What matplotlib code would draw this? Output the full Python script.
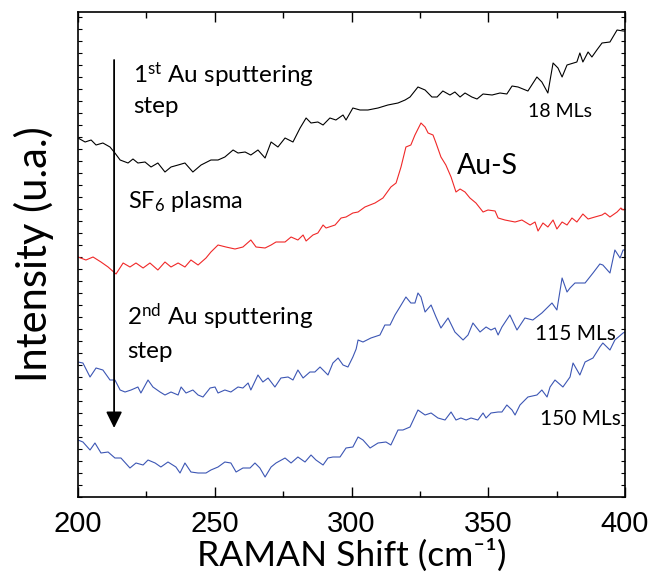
#!/usr/bin/env python3
"""
Raman spectra of Au films: 18 MLs, after SF6 plasma, 115 MLs and 150 MLs.
Writes: out.png
"""
import matplotlib
matplotlib.use("Agg")
import matplotlib.pyplot as plt
from matplotlib.ticker import MultipleLocator

TEXT_FONT = "Lato"
TICK_FONT = "Liberation Sans"

plt.rcParams["mathtext.fontset"] = "custom"
plt.rcParams["mathtext.rm"] = TEXT_FONT
plt.rcParams["mathtext.it"] = TEXT_FONT
plt.rcParams["mathtext.bf"] = TEXT_FONT

# --- spectra (Raman shift in cm-1, intensity in a.u.) ---
x_18 = [200, 202.6, 204.8, 206.6, 209.1, 211.7, 213.5, 215.4, 218.3, 220.1, 221.9,
        224.5, 226.7, 229.2, 231.8, 234, 236.6, 239.1, 242, 245, 248.6, 251.2,
        253.7, 256.7, 258.5, 261.1, 263.2, 265.8, 268.4, 270.6, 273.1, 275.7,
        278.6, 281.2, 283.4, 285.2, 287.7, 289.6, 292.1, 294.3, 296.9, 298,
        300.5, 303.1, 306, 309.7, 313.3, 317, 319.6, 321.4, 324.3, 326.9, 329.4,
        331.3, 333.4, 336, 337.8, 339.7, 341.5, 344, 345.9, 348.1, 351.4, 354.3,
        356.8, 358.7, 360.9, 364.5, 367.8, 369.6, 371.8, 373.7, 375.5, 377,
        378.8, 382.4, 383.5, 384.6, 386.5, 387.9, 389.7, 391.6, 394.5, 397.1,
        399.3, 400]
y_18 = [359, 355, 357, 352, 354, 350, 344, 337, 334, 338, 334,
        335, 330, 334, 325, 330, 332, 334, 325, 332, 337, 337,
        340, 347, 344, 345, 342, 347, 339, 355, 350, 359,
        355, 369, 379, 374, 375, 372, 379, 377, 382, 377,
        389, 387, 387, 389, 392, 394, 397, 400, 410, 407, 400,
        400, 406, 402, 405, 400, 404, 400, 398, 403, 402, 404,
        403, 411, 410, 406, 420, 415, 404, 434, 429, 420,
        432, 435, 444, 435, 445, 440, 447, 454, 455, 467,
        466, 466]

x_sf6 = [200, 202.9, 205.5, 208.4, 211, 213.9, 216.5, 219, 221.2, 223.8, 226.3,
         229.2, 231.8, 234, 236.6, 239.1, 241.3, 243.9, 246.8, 248.6, 251.2,
         254.1, 257.4, 260.3, 263.2, 265.1, 268.4, 270.6, 272.4, 275.7, 277.9,
         280.4, 282.3, 283.4, 285.9, 287.7, 289.6, 290.7, 294, 296.2, 298,
         300.5, 302.4, 304.9, 308.6, 311.5, 314.4, 316.3, 318.1, 319.9, 321.7,
         323.2, 325.4, 326.9, 328, 329.8, 330.9, 332.7, 334.5, 336.4, 338.2,
         339.7, 341.5, 343.3, 345.5, 348.1, 349.9, 352.5, 353.6, 356.1, 359.8,
         362.3, 365.3, 367.1, 368.2, 370, 371.8, 373.7, 375.1, 377, 378.8,
         380.6, 382.4, 384.6, 386.5, 389, 391.6, 392.7, 394.5, 397.1, 398.5,
         399.3, 400]
y_sf6 = [240, 237, 240, 235, 230, 223, 234, 230, 234, 229, 234,
         227, 235, 230, 234, 230, 237, 232, 239, 245, 252,
         250, 248, 250, 257, 250, 249, 252, 255, 255, 260,
         257, 262, 256, 262, 264, 272, 269, 272, 279, 280,
         284, 285, 290, 294, 299, 310, 314, 330, 350, 352,
         362, 374, 370, 364, 362, 354, 340, 332, 320, 305,
         308, 305, 299, 294, 285, 287, 286, 279, 277, 275,
         277, 272, 275, 266, 274, 270, 277, 268, 275, 272,
         279, 275, 283, 278, 280, 282, 284, 280, 285, 289,
         287, 288]

x_115 = [200, 201.8, 204.4, 206.6, 209.1, 211.7, 213.5, 215.4, 217.2, 219.4, 221.9,
         223, 225.6, 227.4, 230, 231.8, 234, 236.6, 237.7, 239.5, 242, 243.9,
         245.7, 248.3, 250.1, 251.2, 253.7, 255.9, 258.5, 260.3, 262.2, 263.2,
         265.8, 267.6, 269.5, 272, 274.2, 276.8, 278.6, 280.4, 282.3, 284.8,
         286.6, 288.5, 291.4, 293.2, 295.1, 296.9, 298.7, 300.5, 301.7, 302.4,
         304.2, 307.1, 310.4, 312.2, 314.1, 315.9, 317.7, 319.9, 321.7, 323.2,
         324.3, 325.4, 326.9, 329.1, 330.9, 332.7, 335.3, 337.8, 340.8, 342.6,
         344.4, 347, 349.2, 351, 352.5, 353.6, 355, 357.9, 360.5, 363.4, 366.3,
         369.6, 373.3, 375.1, 377, 378.8, 379.9, 381.7, 385.4, 388.3, 390.8,
         391.9, 394.5, 396.3, 398.2, 399.3, 400]
y_115 = [135, 134, 120, 129, 127, 117, 117, 107, 105, 107, 110,
         104, 117, 110, 105, 102, 105, 102, 110, 104, 107, 102,
         100, 109, 110, 104, 107, 105, 110, 109, 114, 107,
         122, 115, 119, 110, 119, 120, 117, 127, 119, 125,
         125, 130, 122, 134, 139, 132, 130, 140, 148, 157,
         155, 159, 162, 172, 172, 182, 190, 200, 194, 194,
         204, 200, 185, 192, 180, 169, 179, 165, 157, 162,
         174, 165, 170, 167, 169, 162, 170, 182, 167, 179, 177,
         184, 194, 187, 219, 205, 209, 214, 214, 224, 233,
         232, 224, 247, 239, 247, 247]

x_150 = [200, 201.8, 204.4, 206.2, 208.4, 211, 213.5, 215.7, 219, 221.2, 223.8,
         225.6, 228.2, 230.3, 232.9, 235.8, 237.3, 239.1, 241.3, 243.9, 246.8,
         248.6, 251.2, 253.7, 255.9, 257.8, 260.3, 262.9, 264.7, 266.5, 268.4,
         270.6, 272.4, 275.7, 277.9, 280.4, 283, 285.2, 287, 289.6, 291.4,
         293.2, 295.8, 298, 300.5, 302.4, 304.2, 306.8, 309.7, 312.6, 314.4,
         317, 318.8, 321.4, 324.3, 326.9, 329.1, 331.6, 334.2, 336.4, 338.2,
         340, 341.9, 343.7, 346.2, 348.1, 349.2, 351, 353.6, 355, 356.8, 358.7,
         359.8, 361.6, 364.5, 367.8, 369.6, 371.5, 372.6, 374.4, 377.3, 379.9,
         381, 383.5, 385.4, 388.3, 390.8, 391.9, 394.5, 396.3, 399.3, 400]
y_150 = [57, 55, 47, 54, 44, 45, 39, 39, 29, 34, 32,
         37, 34, 30, 35, 30, 24, 34, 25, 24, 24,
         27, 30, 35, 34, 25, 29, 29, 34, 29, 20,
         30, 34, 39, 34, 40, 35, 42, 37, 32, 39,
         40, 40, 49, 50, 60, 57, 49, 54, 55, 52,
         67, 67, 70, 87, 82, 84, 79, 77, 85, 77,
         79, 77, 79, 77, 84, 79, 84, 85, 85, 92, 87,
         82, 92, 100, 102, 107, 100, 110, 117, 110, 120,
         134, 122, 135, 139, 150, 154, 147, 157, 164, 165]

SERIES = [
    (x_18, y_18, "#000000"),
    (x_sf6, y_sf6, "#f02828"),
    (x_115, y_115, "#3c56b4"),
    (x_150, y_150, "#3c56b4"),
]

X_TICKS = [200, 250, 300, 350, 400]


def main():
    fig = plt.figure(figsize=(6.5, 5.82), dpi=100)
    ax = fig.add_axes([78 / 650, 85 / 582, 547 / 650, 485 / 582])

    for xs, ys, color in SERIES:
        ax.plot(xs, ys, color=color, linewidth=0.8)

    ax.set_xlim(200, 400)
    ax.set_ylim(0, 485)

    ax.set_xticks(X_TICKS)
    ax.set_xticklabels([str(t) for t in X_TICKS], fontfamily=TICK_FONT, fontsize=21)
    ax.xaxis.set_minor_locator(MultipleLocator(25))
    ax.yaxis.set_major_locator(MultipleLocator(12))
    ax.set_yticklabels([])
    ax.tick_params(axis="x", which="major", direction="in", top=True, length=7,
                   width=1, pad=9)
    ax.tick_params(axis="x", which="minor", direction="in", top=True, length=4,
                   width=1)
    ax.tick_params(axis="y", which="major", direction="in", right=True, length=3,
                   width=0.8)
    for s in ax.spines.values():
        s.set_linewidth(1.2)

    ax.set_xlabel("RAMAN Shift (cm\u207b\u00b9)", fontfamily=[TEXT_FONT, "DejaVu Sans"],
                  fontsize=25.5, labelpad=1)
    ax.set_ylabel("Intensity (u.a.)", fontfamily=TEXT_FONT, fontsize=30, labelpad=14)

    # process arrow
    ax.annotate("", xy=(213.2, 69), xytext=(213.2, 437),
                arrowprops=dict(arrowstyle="-|>,head_length=0.65,head_width=0.32",
                                color="black", lw=1.3, mutation_scale=15,
                                shrinkA=0, shrinkB=0))

    tkw = dict(fontfamily=TEXT_FONT, va="baseline", ha="left")
    ax.text(220.1, 414, r"1$^{\mathregular{st}}$ Au sputtering", fontsize=17.5, **tkw)
    ax.text(220.1, 384, "step", fontsize=17.5, **tkw)
    ax.text(218.3, 289, r"SF$_{\mathregular{6}}$ plasma", fontsize=17, **tkw)
    ax.text(217.9, 172, r"2$^{\mathregular{nd}}$ Au sputtering", fontsize=17.5, **tkw)
    ax.text(217.9, 139, "step", fontsize=17.5, **tkw)
    ax.text(338.6, 323, "Au-S", fontsize=20.5, **tkw)
    ax.text(364.5, 380, "18 MLs", fontsize=14, **tkw)
    ax.text(367.1, 157, "115 MLs", fontsize=15, **tkw)
    ax.text(368.9, 72, "150 MLs", fontsize=15, **tkw)

    fig.savefig("out.png", dpi=100)
    plt.close(fig)


if __name__ == "__main__":
    main()
